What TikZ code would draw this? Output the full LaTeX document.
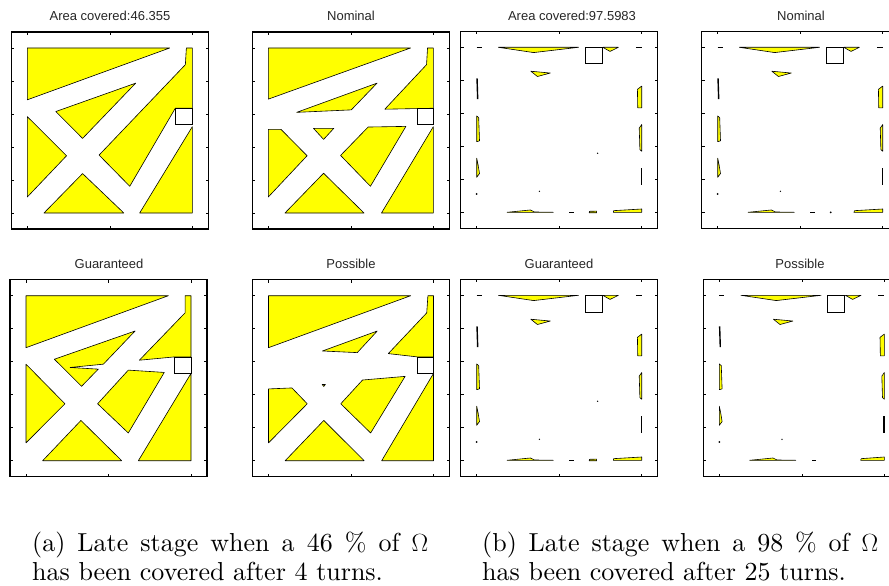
\documentclass[tikz,border=0pt]{standalone}
\usepackage{fontspec}
\newfontfamily\ttlfont{Liberation Sans}
\newfontfamily\capfont{lmroman10-regular.otf}
\definecolor{ttlc}{HTML}{262626}
\definecolor{yel}{HTML}{FFFF00}
\tikzset{
  reg/.style={fill=yel,draw=black,line width=0.6pt,line join=round},
  sqr/.style={fill=white,draw=black,line width=0.6pt},
  frm/.style={draw=black,line width=1.2pt},
  tck/.style={draw=black,line width=0.45pt},
  ln/.style={draw=black,line width=1.4pt},
  ttl/.style={font=\ttlfont\fontsize{13}{15}\selectfont,text=ttlc,inner sep=0pt},
  capn/.style={font=\capfont\fontsize{26}{29}\selectfont,inner sep=0pt,anchor=base west}
}
\newcommand\panel[3]{%
  \begin{scope}[shift={(#1,#2)},x={(16.5pt,0pt)},y={(0pt,16.5pt)}]
    #3
    \draw[frm] (-0.97,-0.97) rectangle (10.97,10.97);
    \foreach \t in {0,5,10}{\draw[tck] (\t,-0.97)--(\t,-0.8) (\t,10.97)--(\t,10.8);}
    \foreach \t in {0,2,4,6,8,10}{\draw[tck] (-0.97,\t)--(-0.8,\t) (10.97,\t)--(10.8,\t);}
  \end{scope}}
\newcommand\latecommon{%
  \draw[ln] (0,10)--(0.3,10);
  \path[reg] (1.31,10)--(6.17,10)--(3.45,9.68)--cycle;
  \path[sqr] (6.57,9) rectangle (7.6,10);
  \path[reg] (7.64,10)--(8.59,10)--(8.08,9.75)--cycle;
  \draw[ln] (9.64,10)--(10,10);
  \path[reg] (3.28,8.55)--(4.46,8.44)--(3.68,8.23)--cycle;
  \draw[ln] (0.02,8.12)--(0.06,6.86);
  \path[reg] (0,5.84)--(0.12,5.74)--(0.17,4.33)--(0,4.28)--cycle;
  \path[reg] (0,3.28)--(0.08,2.9)--(0.17,2.35)--(0,2.12)--cycle;
  \fill (0,1.11) circle (1pt);
  \path[reg] (9.74,7.45)--(10,7.65)--(10,6.33)--(9.76,6.33)--cycle;
  \path[reg] (9.85,5.1)--(10,5.32)--(10,3.7)--(9.89,3.8)--cycle;
  \draw[ln] (9.98,2.68)--(9.98,1.64);
  \path[reg] (1.84,0)--(3.25,0.14)--(3.5,0.02)--(4.64,0)--cycle;
  \draw[ln] (5.62,0)--(5.87,0);
  \fill (3.8,1.27) circle (0.7pt);
}
\begin{document}
\begin{tikzpicture}[x=1pt,y=-1pt]
\useasboundingbox (0,0) rectangle (889,586);
% ---------- titles
\node[ttl] (t1) at (110,16) {Area covered:46.355};
\node[ttl] (t2) at (351,16) {Nominal};
\node[ttl] (t3) at (572,16) {Area covered:97.5983};
\node[ttl] (t4) at (801,16) {Nominal};
\node[ttl] (t5) at (109,263.5) {Guaranteed};
\node[ttl] (t6) at (351,263.5) {Possible};
\node[ttl] (t7) at (559,263.5) {Guaranteed};
\node[ttl] (t8) at (800,263.5) {Possible};
% ---------- panel 1
\panel{27.3}{213}{
  \path[reg] (0,10)--(8.63,10)--(0,6.86)--cycle;
  \path[reg] (9.64,10)--(10,10)--(10,6.35)--(8.97,6.35)--(6.21,1.62)--(4.35,3.51)--(9.58,8.99)--cycle;
  \path[reg] (1.73,6.15)--(6.57,7.87)--(3.35,4.52)--cycle;
  \path[reg] (0,5.84)--(2.38,3.47)--(0,0.97)--cycle;
  \path[reg] (1.01,0)--(3.35,2.39)--(5.85,0)--cycle;
  \path[reg] (6.81,0)--(10,5.23)--(10,0)--cycle;
  \path[sqr] (8.97,5.35) rectangle (10,6.35);
}
% ---------- panel 2
\panel{268.3}{213}{
  \path[reg] (0,10)--(8.62,10)--(0,6.9)--cycle;
  \path[reg] (9.65,10)--(10,10)--(10,6.35)--(7.06,6.29)--(9.59,8.99)--cycle;
  \path[reg] (1.72,6.1)--(6.59,7.87)--(5.03,6.25)--cycle;
  \path[reg] (2.74,5.13)--(3.97,5.13)--(3.35,4.46)--cycle;
  \path[reg] (0,5.07)--(0.77,5.07)--(2.35,3.47)--(0,0.97)--cycle;
  \path[reg] (6.05,5.21)--(8.34,5.25)--(6.19,1.62)--(4.38,3.49)--cycle;
  \path[reg] (1.01,0)--(3.35,2.41)--(5.8,0)--cycle;
  \path[reg] (6.86,0)--(10,5.23)--(10,0)--cycle;
  \path[sqr] (9.03,5.35) rectangle (10,6.35);
}
% ---------- panel 3
\panel{476.7}{212.3}{
  \latecommon
  \path[reg] (6.82,-0.03)--(7.27,-0.03)--(7.27,0.07)--(6.84,0.06)--cycle;
  \fill (7.33,3.58) circle (0.7pt);
  \path[reg] (8.28,0)--(10,0)--(10,0.2)--(8.3,0.1)--cycle;
}
% ---------- panel 4
\panel{717.7}{212.3}{
  \latecommon
  \fill (6.85,0) circle (1pt);
  \path[reg] (8.25,0)--(10,0)--(10,0.2)--(8.3,0.1)--cycle;
}
% ---------- panel 5
\panel{26}{460.7}{
  \path[reg] (0,10)--(8.63,10)--(0,6.85)--cycle;
  \path[reg] (9.64,10)--(10,10)--(10,6.29)--(8.99,6.29)--(6.87,6.09)--(9.64,8.96)--cycle;
  \path[reg] (1.72,6.15)--(6.61,7.86)--(4.69,5.85)--(2.67,5.65)--(4.38,5.55)--(3.37,4.51)--cycle;
  \path[reg] (0,5.85)--(2.36,3.45)--(0,1.08)--cycle;
  \path[reg] (6.2,5.49)--(8.38,5.35)--(6.2,1.68)--(4.34,3.45)--cycle;
  \path[reg] (1.01,0)--(3.33,2.44)--(5.8,0)--cycle;
  \path[reg] (6.81,0)--(10,5.29)--(10,0)--cycle;
  \path[sqr] (8.99,5.29) rectangle (10,6.29);
}
% ---------- panel 6
\panel{268.5}{460.7}{
  \path[reg] (0,10)--(8.62,10)--(0,6.85)--cycle;
  \path[reg] (9.66,10)--(10,10)--(10,6.29)--(9.03,6.29)--(7.26,6.49)--(9.59,8.96)--cycle;
  \path[reg] (3.27,6.65)--(6.59,7.86)--(5.38,6.55)--cycle;
  \path[reg] (3.25,4.62)--(3.45,4.62)--(3.35,4.5)--cycle;
  \path[reg] (0,4.35)--(1.42,4.41)--(2.35,3.45)--(0,1.08)--cycle;
  \path[reg] (5.7,4.89)--(8.28,5.11)--(6.19,1.68)--(4.38,3.45)--cycle;
  \path[reg] (1.01,0)--(3.35,2.44)--(5.8,0)--cycle;
  \path[reg] (6.86,0)--(10,5.29)--(10,0)--cycle;
  \path[sqr] (9.03,5.29) rectangle (10,6.29);
}
% ---------- panel 7
\panel{476.7}{460.3}{
  \latecommon
  \path[reg] (6.82,-0.03)--(7.27,-0.03)--(7.27,0.07)--(6.84,0.06)--cycle;
  \fill (7.33,3.58) circle (0.7pt);
  \path[reg] (8.28,0)--(10,0)--(10,0.2)--(8.3,0.1)--cycle;
}
% ---------- panel 8
\panel{719.3}{460.3}{
  \latecommon
  \path[reg] (8.57,0)--(10,0)--(10,0.2)--(8.6,0.1)--cycle;
}
% ---------- captions
\node[capn] (capa) at (32,551) {\parbox[t]{396pt}{(a) Late stage when a 46 \% of $\Omega$\linebreak has been covered after 4 turns.}};
\node[capn] (capb) at (482,551) {\parbox[t]{396pt}{(b) Late stage when a 98 \% of $\Omega$\linebreak has been covered after 25 turns.}};
\end{tikzpicture}
\end{document}
